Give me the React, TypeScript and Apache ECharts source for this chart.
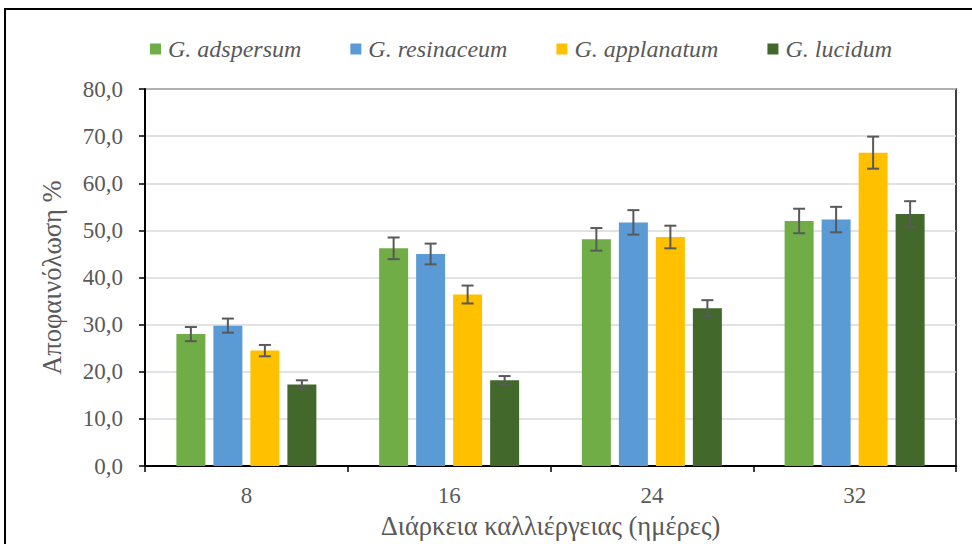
import React, { useEffect, useRef } from "react";
import * as echarts from "echarts";

const categories = ["8", "16", "24", "32"];
const seriesNames = ["G. adspersum", "G. resinaceum", "G. applanatum", "G. lucidum"];
const adspersum = [28.0, 46.2, 48.1, 52.0];
const adspersumErr = [1.5, 2.3, 2.4, 2.6];
const resinaceum = [29.8, 45.0, 51.7, 52.3];
const resinaceumErr = [1.5, 2.2, 2.6, 2.7];
const applanatum = [24.5, 36.4, 48.6, 66.5];
const applanatumErr = [1.2, 1.9, 2.4, 3.4];
const lucidum = [17.3, 18.2, 33.5, 53.5];
const lucidumErr = [0.9, 0.9, 1.7, 2.7];
const colors = ["#70AD47", "#5B9BD5", "#FFC000", "#43682B"];

const FONT = "Liberation Serif";
const TEXT = "#595959";
const BAR_W = 29;
const BAR_GAP = 8;

export default function App() {
  const ref = useRef<HTMLDivElement>(null);
  useEffect(() => {
    if (!ref.current) return;
    const chart = echarts.init(ref.current, null, { renderer: "svg" });
    const values = [adspersum, resinaceum, applanatum, lucidum];
    const errs = [adspersumErr, resinaceumErr, applanatumErr, lucidumErr];
    const fmt = (v: number) => v.toFixed(1).replace(".", ",");

    const bars = values.map((vals, i) => ({
      name: seriesNames[i],
      type: "bar",
      data: vals,
      barWidth: BAR_W,
      barGap: (BAR_GAP / BAR_W) * 100 + "%",
      itemStyle: { color: colors[i] },
      z: 2,
    }));

    const errorSeries = values.map((vals, i) => ({
      name: seriesNames[i] + " err",
      type: "custom",
      z: 5,
      data: vals.map((v, k) => [k, v - errs[i][k], v + errs[i][k]]),
      renderItem: (params: any, api: any) => {
        const offset = (i - 1.5) * (BAR_W + BAR_GAP);
        const cx = api.coord([api.value(0), 0])[0] + offset;
        const yLo = api.coord([api.value(0), api.value(1)])[1];
        const yHi = api.coord([api.value(0), api.value(2)])[1];
        const st = { stroke: "#595959", lineWidth: 2 };
        return {
          type: "group",
          children: [
            { type: "line", shape: { x1: cx, y1: yLo, x2: cx, y2: yHi }, style: st },
            { type: "line", shape: { x1: cx - 6, y1: yLo, x2: cx + 6, y2: yLo }, style: st },
            { type: "line", shape: { x1: cx - 6, y1: yHi, x2: cx + 6, y2: yHi }, style: st },
          ],
        };
      },
    }));

    chart.setOption({
      animation: false,
      color: colors,
      textStyle: { fontFamily: FONT },
      graphic: [
        {
          type: "rect",
          shape: { x: 5, y: 9, width: 980, height: 560 },
          style: { fill: "none", stroke: "#000", lineWidth: 2 },
          silent: true,
        },
      ],
      legend: {
        data: seriesNames,
        left: 145,
        top: 32,
        itemWidth: 11,
        itemHeight: 11,
        itemGap: 49,
        icon: "rect",
        textStyle: {
          fontFamily: FONT,
          fontStyle: "italic",
          fontSize: 24,
          color: TEXT,
          padding: [0, 0, 0, 2],
        },
      },
      grid: {
        left: 145,
        width: 811,
        top: 89,
        height: 388,
        show: true,
        borderColor: "#000",
        borderWidth: 1.5,
      },
      xAxis: {
        type: "category",
        data: categories,
        name: "Διάρκεια καλλιέργειας (ημέρες)",
        nameLocation: "middle",
        nameGap: 43,
        nameTextStyle: { fontFamily: FONT, fontSize: 26.5, color: TEXT },
        axisLine: { lineStyle: { color: "#000", width: 2 } },
        axisTick: { show: true, length: 6, lineStyle: { color: "#000", width: 1.5 } },
        axisLabel: { margin: 18, fontFamily: FONT, fontSize: 23, color: TEXT },
      },
      yAxis: {
        type: "value",
        min: 0,
        max: 80,
        interval: 10,
        name: "Αποφαινόλωση %",
        nameLocation: "middle",
        nameGap: 80,
        nameRotate: 90,
        nameTextStyle: { fontFamily: FONT, fontSize: 26.5, color: TEXT },
        axisLine: { show: true, lineStyle: { color: "#000", width: 2 } },
        axisTick: { show: true, length: 6, lineStyle: { color: "#000", width: 1.5 } },
        axisLabel: {
          margin: 22,
          fontFamily: FONT,
          fontSize: 23,
          color: TEXT,
          formatter: (v: number) => fmt(v),
        },
        splitLine: { lineStyle: { color: "#D9D9D9", width: 1.5 } },
      },
      series: [...bars, ...errorSeries],
    });
    return () => chart.dispose();
  }, []);

  return (
    <div
      ref={ref}
      style={{ position: "fixed", left: 0, top: 0, width: 972, height: 544, background: "#fff" }}
    />
  );
}
